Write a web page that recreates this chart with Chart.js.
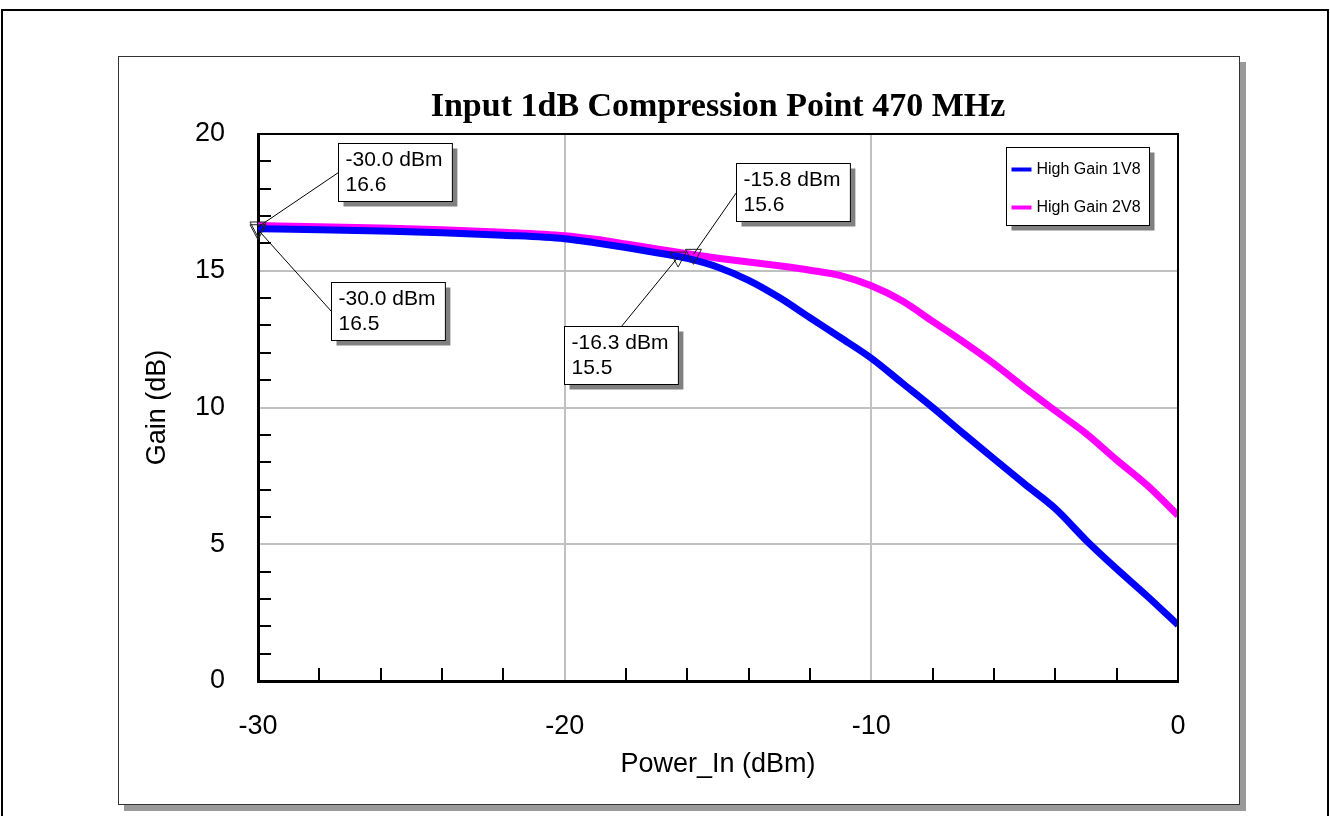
<!DOCTYPE html>
<html><head><meta charset="utf-8">
<script src="https://cdn.jsdelivr.net/npm/chart.js@4.4.1/dist/chart.umd.min.js"></script>
<style>
html,body{margin:0;padding:0;background:#fff;width:1330px;height:816px;overflow:hidden;}
#outer{position:absolute;left:1px;top:9px;width:1324px;height:900px;border:2px solid #000;}
#panel{position:absolute;left:118px;top:56px;width:1120px;height:747px;border:1px solid #333;background:#fff;box-shadow:6px 6px 0 #9a9a9a;}
#wrap{position:absolute;left:0;top:0;width:1330px;height:816px;}
</style></head>
<body>
<div id="outer"></div><div id="panel"></div>
<div id="wrap"><canvas id="c" width="1330" height="816"></canvas></div>
<script>
// ---- data ----
const powerIn = [-30,-28,-26,-24,-22,-20,-19,-18,-17,-16,-15,-14,-13,-12,-11,-10,-9,-8,-7,-6,-5,-4,-3,-2,-1,0];
const gain1V8 = [16.54,16.50,16.45,16.39,16.30,16.17,16.02,15.85,15.66,15.45,15.13,14.65,14.02,13.28,12.55,11.80,10.90,10.00,9.05,8.12,7.20,6.30,5.15,4.10,3.10,2.05];
const gain2V8 = [16.65,16.61,16.56,16.50,16.41,16.28,16.15,15.98,15.80,15.62,15.46,15.32,15.18,15.02,14.82,14.45,13.90,13.15,12.40,11.60,10.72,9.88,9.05,8.08,7.15,6.05];
const seriesLabels = ['High Gain 1V8','High Gain 2V8'];
const xTicks = [-30,-20,-10,0];
const yTicks = [0,5,10,15,20];
// marker readouts
const markerSeries = [1,0,1,0];
const markerX = [-30.0,-30.0,-15.8,-16.3];
const markerY = [16.6,16.5,15.6,15.5];

const SANS = '"Liberation Sans", Arial, Helvetica, sans-serif';
const SERIF = '"Liberation Serif", "Times New Roman", serif';

// callout placement relative to marker pixel (styling)
const calloutLayout = [
  {dx:80, dy:-84, anchor:'left'},
  {dx:73, dy:52, anchor:'left'},
  {dx:43, dy:-91, anchor:'left'},
  {dx:-114, dy:69, anchor:'top'}
];

const framePlugin = {
  id:'frame',
  afterDatasetsDraw(chart){
    const {ctx, chartArea:a, scales:{x,y}} = chart;
    ctx.save();
    ctx.strokeStyle='#000'; ctx.lineWidth=2;
    ctx.beginPath(); ctx.moveTo(a.left,a.top); ctx.lineTo(a.right,a.top); ctx.lineTo(a.right,a.bottom); ctx.stroke();
    ctx.lineWidth=2;
    for(let v=y.min+1; v<y.max; v+=1){
      if(yTicks.includes(v)) continue;
      const py=Math.round(y.getPixelForValue(v));
      ctx.beginPath(); ctx.moveTo(a.left,py); ctx.lineTo(a.left+13,py); ctx.stroke();
    }
    for(let v=x.min+2; v<x.max; v+=2){
      if(xTicks.includes(v)) continue;
      const px=Math.round(x.getPixelForValue(v));
      ctx.beginPath(); ctx.moveTo(px,a.bottom); ctx.lineTo(px,a.bottom-13); ctx.stroke();
    }
    ctx.font = '21px '+SANS;
    markerX.forEach((mx,i)=>{
      const px=x.getPixelForValue(mx), py=y.getPixelForValue(markerY[i]);
      const L=calloutLayout[i];
      const l1 = mx.toFixed(1)+' dBm', l2 = markerY[i].toFixed(1);
      const w = Math.max(ctx.measureText(l1).width, ctx.measureText(l2).width)+17;
      const h = 58;
      const bx = Math.round(px+L.dx)+0.5, by = Math.round(py+L.dy)+0.5;
      ctx.strokeStyle='#000'; ctx.lineWidth=1;
      ctx.beginPath(); ctx.moveTo(px,py);
      if(L.anchor==='left') ctx.lineTo(bx, by+h/2); else ctx.lineTo(bx+w/2, by);
      ctx.stroke();
      ctx.strokeStyle='#222'; ctx.lineWidth=1;
      ctx.beginPath(); ctx.moveTo(px-8,py-5); ctx.lineTo(px+8,py-5); ctx.lineTo(px,py+10); ctx.closePath(); ctx.stroke();
      ctx.fillStyle='#808080'; ctx.fillRect(bx+5,by+5,w,h);
      ctx.fillStyle='#fff'; ctx.fillRect(bx,by,w,h);
      ctx.strokeStyle='#000'; ctx.strokeRect(bx,by,w,h);
      ctx.fillStyle='#000'; ctx.textBaseline='middle'; ctx.textAlign='left';
      ctx.fillText(l1,bx+7,by+17);
      ctx.fillText(l2,bx+7,by+42);
    });
    const lx=Math.round(a.right-172)+0.5, ly=Math.round(a.top+13)+0.5, lw=143, lh=78;
    ctx.fillStyle='#808080'; ctx.fillRect(lx+5,ly+5,lw,lh);
    ctx.fillStyle='#fff'; ctx.fillRect(lx,ly,lw,lh);
    ctx.strokeStyle='#000'; ctx.lineWidth=1; ctx.strokeRect(lx,ly,lw,lh);
    ctx.font='16px '+SANS;
    chart.data.datasets.forEach((ds,i)=>{
      const cy = ly+22+i*38;
      ctx.strokeStyle=ds.borderColor; ctx.lineWidth=4;
      ctx.beginPath(); ctx.moveTo(lx+5,cy); ctx.lineTo(lx+25,cy); ctx.stroke();
      ctx.fillStyle='#000'; ctx.textBaseline='middle'; ctx.textAlign='left';
      ctx.fillText(ds.label, lx+30, cy);
    });
    ctx.restore();
  }
};

new Chart(document.getElementById('c'), {
  type:'line',
  data:{datasets:[
    {label:seriesLabels[0], data:powerIn.map((v,i)=>({x:v,y:gain1V8[i]})), borderColor:'#0000ff', backgroundColor:'#0000ff', borderWidth:7, pointRadius:0, cubicInterpolationMode:'monotone', fill:false},
    {label:seriesLabels[1], data:powerIn.map((v,i)=>({x:v,y:gain2V8[i]})), borderColor:'#ff00ff', backgroundColor:'#ff00ff', borderWidth:7, pointRadius:0, cubicInterpolationMode:'monotone', fill:false}
  ]},
  options:{
    responsive:false, animation:false, events:[],
    layout:{padding:{left:128,right:152,top:86.6,bottom:35}},
    plugins:{
      legend:{display:false}, tooltip:{enabled:false},
      title:{display:true, text:'Input 1dB Compression Point 470 MHz', fullSize:false, color:'#000',
        font:{family:SERIF, size:34, weight:'bold', lineHeight:1.2}, padding:{top:0,bottom:6.6}}
    },
    scales:{
      x:{type:'linear', min:-30, max:0,
        afterFit(s){s.height=100;},
        afterBuildTicks(s){s.ticks = xTicks.map(v=>({value:v}));},
        ticks:{color:'#000', font:{family:SANS,size:27}, padding:29, maxRotation:0, callback:v=>String(v)},
        grid:{color:'#c0c0c0', lineWidth:2, drawTicks:false},
        border:{color:'#000', width:3},
        title:{display:true, text:'Power_In (dBm)', color:'#000', font:{family:SANS,size:27,lineHeight:1.2}, padding:{top:0,bottom:0}}
      },
      y:{type:'linear', min:0, max:20,
        afterFit(s){s.width=130;},
        afterBuildTicks(s){s.ticks = yTicks.map(v=>({value:v}));},
        ticks:{color:'#000', font:{family:SANS,size:27}, padding:33, callback:v=>String(v)},
        grid:{color:'#c0c0c0', lineWidth:2, drawTicks:false},
        border:{color:'#000', width:3},
        title:{display:true, text:'Gain (dB)', color:'#000', font:{family:SANS,size:27,lineHeight:1.2}, padding:{top:13,bottom:0}}
      }
    }
  },
  plugins:[framePlugin]
});
</script>
</body></html>
